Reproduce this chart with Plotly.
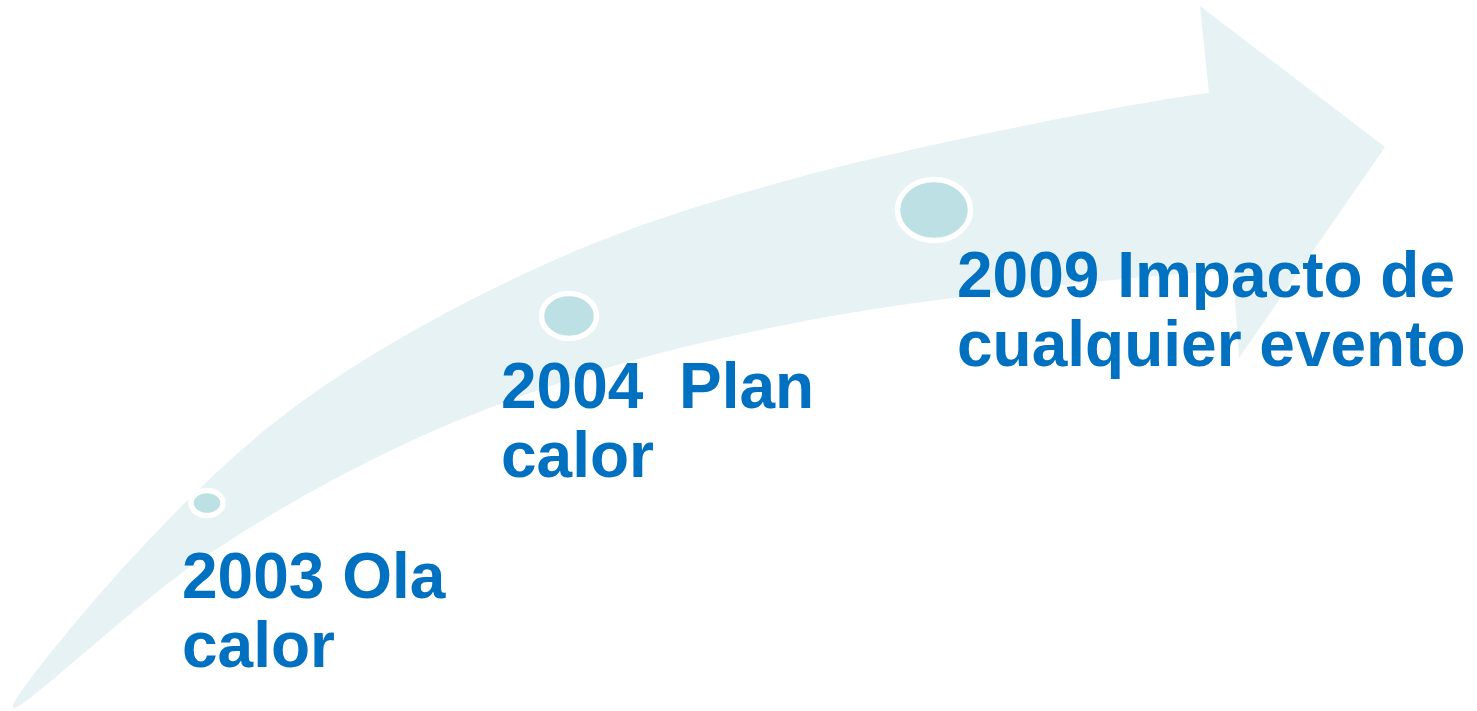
import plotly.graph_objects as go

# events along the arrow
years = ["2003", "2004", "2009"]
label_line1 = ["2003 Ola", "2004  Plan", "2009 Impacto de"]
label_line2 = ["calor", "calor", "cualquier evento"]
label_x = [180, 499, 955]
label_base1 = [598, 408, 297]
label_base2 = [667, 477, 366]

dot_x = [207, 569, 934]
dot_y = [503, 316, 210]
dot_rx = [16, 27.5, 36.5]
dot_ry = [12.5, 22.5, 30.5]

# arrow outline (page pixels)
upper_x = [13, 133, 300, 550, 800, 1209, 1250]
upper_y = [708, 557, 403, 262, 177, 93, 92]
lower_x = [1250, 1233, 1000, 800, 600, 400, 200, 13]
lower_y = [270, 270, 292, 322, 370, 446, 560, 708]
head_x = [1209, 1200, 1385, 1239, 1233]
head_y = [93, 6, 147, 358, 270]

BAND = "#E6F2F4"
DOT = "#BCE0E3"
TEXT = "#0070C0"
W, H = 1477, 711

fig = go.Figure()

fig.add_trace(go.Scatter(
    x=upper_x + lower_x, y=upper_y + lower_y,
    mode="lines", line=dict(shape="spline", smoothing=1, width=0, color=BAND),
    fill="toself", fillcolor=BAND, hoverinfo="skip",
))
fig.add_trace(go.Scatter(
    x=head_x, y=head_y, mode="lines", line=dict(width=0, color=BAND),
    fill="toself", fillcolor=BAND, hoverinfo="skip",
))

for cx, cy, rx, ry in zip(dot_x, dot_y, dot_rx, dot_ry):
    fig.add_shape(type="circle", xref="x", yref="y",
                  x0=cx - rx, x1=cx + rx, y0=cy - ry, y1=cy + ry,
                  fillcolor=DOT, line=dict(color="white", width=5.5), layer="above")

font = dict(family="Liberation Sans, Arial, sans-serif", size=64, color=TEXT, weight="bold")
for x, t1, t2, b1, b2 in zip(label_x, label_line1, label_line2, label_base1, label_base2):
    fig.add_annotation(x=x, y=b1 - 22, text=t1, xanchor="left", yanchor="middle",
                       showarrow=False, font=font)
    fig.add_annotation(x=x, y=b2 - 22, text=t2, xanchor="left", yanchor="middle",
                       showarrow=False, font=font)

fig.update_layout(
    width=W, height=H,
    margin=dict(l=0, r=0, t=0, b=0),
    paper_bgcolor="white", plot_bgcolor="white",
    showlegend=False,
    xaxis=dict(range=[0, W], visible=False, fixedrange=True),
    yaxis=dict(range=[H, 0], visible=False, fixedrange=True),
)

fig.write_html("out.html", config={"displayModeBar": False},
               post_script="document.body.style.margin='0';")
